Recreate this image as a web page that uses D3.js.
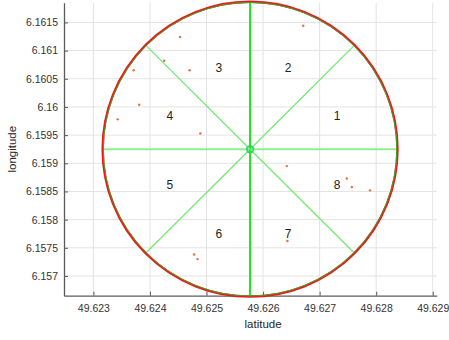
<!DOCTYPE html>
<html>
<head>
<meta charset="utf-8">
<script src="https://cdn.jsdelivr.net/npm/d3@7"></script>
<style>
  html, body { margin: 0; padding: 0; background: #fff; }
  svg { display: block; font-family: "Liberation Sans", Arial, sans-serif; }
</style>
</head>
<body>
<svg id="chart" width="449" height="340"></svg>
<script>
// Sampled positions (latitude, longitude)
const pointLat = [49.62671, 49.62453, 49.62425, 49.62470, 49.62371, 49.62381, 49.62343, 49.62489,
                  49.62642, 49.62748, 49.62757, 49.62789, 49.62478, 49.62484, 49.62643];
const pointLon = [6.16144, 6.16124, 6.16082, 6.16065, 6.16065, 6.16004, 6.15978, 6.15953,
                  6.15895, 6.15873, 6.15858, 6.15852, 6.15738, 6.15730, 6.15762];

// Search circle and its sectors
const centerLat = 49.62577;
const centerLon = 6.15925;
const radius = 0.0026;
const sectorCount = 8;
const sectorLabels = ["1", "2", "3", "4", "5", "6", "7", "8"];
const labelRadius = 0.0016;

// Axis ticks
const xTicks = [49.623, 49.624, 49.625, 49.626, 49.627, 49.628, 49.629];
const yTicks = [6.157, 6.1575, 6.158, 6.1585, 6.159, 6.1595, 6.16, 6.1605, 6.161, 6.1615];
const xDomain = [49.62248, 49.62907];
const yDomain = [6.15665, 6.16185];

const svg = d3.select("#chart");
const plotLeft = 64, plotRight = 436.7, plotTop = 2.7, plotBottom = 295.7;

const x = d3.scaleLinear().domain(xDomain).range([plotLeft, plotRight]);
const y = d3.scaleLinear().domain(yDomain).range([plotBottom, plotTop]);

// Grid
const grid = svg.append("g");
grid.selectAll("line.gx").data(xTicks).join("line").attr("class", "gx")
  .attr("x1", d => x(d)).attr("x2", d => x(d))
  .attr("y1", plotTop).attr("y2", plotBottom)
  .attr("stroke", "#e3e3e3").attr("stroke-width", 1);
grid.selectAll("line.gy").data(yTicks).join("line").attr("class", "gy")
  .attr("y1", d => y(d)).attr("y2", d => y(d))
  .attr("x1", plotLeft).attr("x2", plotRight)
  .attr("stroke", "#e3e3e3").attr("stroke-width", 1);

// Axes
const fmt = d => String(+d.toFixed(4));
const xAxis = d3.axisBottom(x).tickValues(xTicks).tickFormat(fmt).tickSizeInner(-4).tickSizeOuter(0).tickPadding(9);
const yAxis = d3.axisLeft(y).tickValues(yTicks).tickFormat(fmt).tickSizeInner(-4).tickSizeOuter(0).tickPadding(6);

const gx = svg.append("g").attr("transform", `translate(0,${plotBottom})`).call(xAxis);
const gy = svg.append("g").attr("transform", `translate(${plotLeft},0)`).call(yAxis);
[gx, gy].forEach(g => {
  g.select(".domain").attr("stroke", "#5a5a5a").attr("stroke-width", 1.3);
  g.selectAll(".tick line").attr("stroke", "#5a5a5a");
  g.selectAll(".tick text").attr("fill", "#333").attr("font-size", 10.5)
    .attr("font-family", "Liberation Sans, Arial, sans-serif");
});

// Axis titles
svg.append("text").attr("x", x(49.626)).attr("y", 328)
  .attr("text-anchor", "middle").attr("font-size", 11.5).attr("fill", "#262626")
  .text("latitude");
svg.append("text").attr("transform", `translate(16,${(plotTop + plotBottom) / 2}) rotate(-90)`)
  .attr("text-anchor", "middle").attr("font-size", 11.5).attr("fill", "#262626")
  .text("longitude");

const cx = x(centerLat), cy = y(centerLon);
const rPx = x(centerLat + radius) - cx;

// Sector boundaries
const angles = d3.range(sectorCount).map(i => i * 2 * Math.PI / sectorCount);
const kind = a => Math.round(a / (Math.PI / 4)) % 8;
svg.append("g").selectAll("line").data(angles).join("line")
  .attr("x1", cx).attr("y1", cy)
  .attr("x2", a => x(centerLat + radius * Math.cos(a)))
  .attr("y2", a => y(centerLon + radius * Math.sin(a)))
  .attr("stroke", a => {
    const k = kind(a);
    if (k === 2 || k === 6) return "#19e619";
    if (k === 0 || k === 4) return "#8cf08c";
    return "#6eeb6e";
  })
  .attr("stroke-width", a => (kind(a) % 2 === 0 ? 2 : 1.2));

// Circle outline
svg.append("circle").attr("cx", cx).attr("cy", cy).attr("r", rPx + 0.4)
  .attr("fill", "none").attr("stroke", "#f01818").attr("stroke-width", 2.4);
svg.append("circle").attr("cx", cx).attr("cy", cy).attr("r", rPx - 0.3)
  .attr("fill", "none").attr("stroke", "#3aa52a").attr("stroke-width", 1);

// Centre marker
svg.append("circle").attr("cx", cx).attr("cy", cy).attr("r", 3.2)
  .attr("fill", "none").attr("stroke", "#2fbf8f").attr("stroke-width", 1.4);
svg.append("circle").attr("cx", cx).attr("cy", cy).attr("r", 3.2)
  .attr("fill", "none").attr("stroke", "#33e633").attr("stroke-width", 0.7);

// Sector numbers, left-aligned at the mid-angle of each sector
svg.append("g").selectAll("text").data(sectorLabels).join("text")
  .attr("x", (d, i) => x(centerLat + labelRadius * Math.cos((i + 0.5) * Math.PI / 4)))
  .attr("y", (d, i) => y(centerLon + labelRadius * Math.sin((i + 0.5) * Math.PI / 4)))
  .attr("dy", "0.47em")
  .attr("text-anchor", "start").attr("font-size", 12).attr("fill", "#222")
  .text(d => d);

// Points
svg.append("g").selectAll("circle").data(pointLat).join("circle")
  .attr("cx", d => x(d)).attr("cy", (d, i) => y(pointLon[i]))
  .attr("r", 1.2).attr("fill", "#f06a3a");
</script>
</body>
</html>
